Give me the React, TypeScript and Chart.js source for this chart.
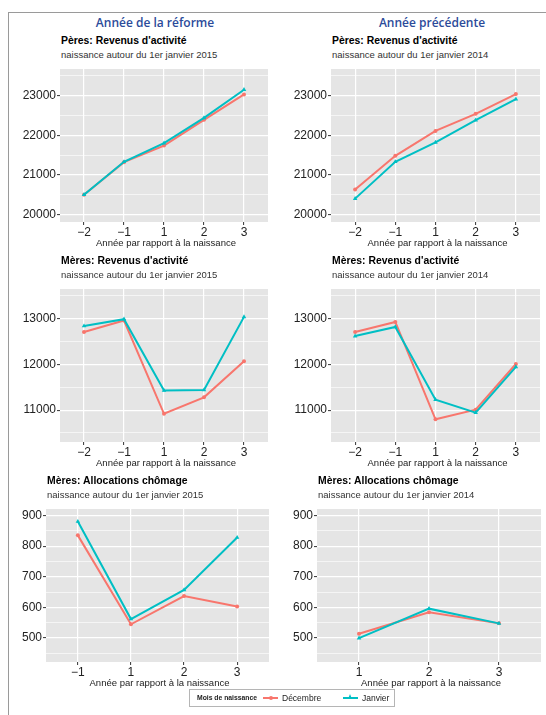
import React, { useEffect, useRef } from 'react';
import { Chart, registerables } from 'chart.js';
Chart.register(...registerables);

const RED = '#F8766D';
const TEAL = '#00BFC4';
const PANEL_BG = '#E5E5E5';
const FONT = '"Liberation Sans", Arial, Helvetica, sans-serif';

// Categories (years relative to birth)
const catsFull = ['\u22122', '\u22121', '1', '2', '3'];
const catsChom2015 = ['\u22121', '1', '2', '3'];
const catsChom2014 = ['1', '2', '3'];

// Pères: Revenus d'activité
const peres2015Dec = [20500, 21320, 21740, 22390, 23030];
const peres2015Jan = [20500, 21330, 21800, 22440, 23150];
const peres2014Dec = [20630, 21480, 22110, 22540, 23040];
const peres2014Jan = [20400, 21330, 21820, 22380, 22910];

// Mères: Revenus d'activité
const meres2015Dec = [12710, 12960, 10920, 11280, 12070];
const meres2015Jan = [12840, 12990, 11430, 11440, 13040];
const meres2014Dec = [12710, 12930, 10800, 11010, 12010];
const meres2014Jan = [12620, 12820, 11230, 10945, 11945];

// Mères: Allocations chômage
const chom2015Dec = [835, 545, 637, 603];
const chom2015Jan = [880, 562, 657, 828];
const chom2014Dec = [514, 584, 548];
const chom2014Jan = [500, 596, 548];

// Tick labels (major ticks)
const ticksPeres = [20000, 21000, 22000, 23000];
const ticksMeres = [11000, 12000, 13000];
const ticksChom = [500, 600, 700, 800, 900];

const Y_AXIS_W = 46;
const X_AXIS_H = 22;
const TICK_FONT = { family: FONT, size: 12 };
const TICK_COLOR = '#222';

const bgPlugin = {
  id: 'panelBg',
  beforeDraw(chart: any) {
    const { ctx, chartArea: a } = chart;
    ctx.save();
    ctx.fillStyle = PANEL_BG;
    ctx.fillRect(a.left, a.top, a.right - a.left, a.bottom - a.top);
    ctx.restore();
  },
};

type PanelProps = {
  left: number;
  top: number;
  width: number;
  height: number;
  yMin: number;
  yMax: number;
  majors: number[];
  cats: string[];
  dec: number[];
  jan: number[];
  title: string;
  subtitle: string;
};

function Panel(p: PanelProps) {
  const ref = useRef<HTMLCanvasElement>(null);
  const cw = Y_AXIS_W + p.width;
  const ch = p.height + X_AXIS_H;

  useEffect(() => {
    const step = p.majors[1] - p.majors[0];
    const minors: number[] = [];
    for (let v = p.majors[0] - step / 2; v <= p.yMax; v += step) {
      if (v >= p.yMin) minors.push(v);
    }
    const allY = [...p.majors, ...minors].sort((a, b) => a - b);
    const isMajor = (v: number) => p.majors.includes(v);
    const n = p.cats.length;

    const chart = new Chart(ref.current as HTMLCanvasElement, {
      type: 'line',
      data: {
        datasets: [
          {
            label: 'Janvier',
            data: p.jan.map((y, i) => ({ x: i, y })),
            borderColor: TEAL,
            backgroundColor: TEAL,
            borderWidth: 2,
            pointStyle: 'triangle',
            pointRadius: 2.6,
            pointBorderWidth: 0,
            order: 0,
          },
          {
            label: 'Décembre',
            data: p.dec.map((y, i) => ({ x: i, y })),
            borderColor: RED,
            backgroundColor: RED,
            borderWidth: 2,
            pointStyle: 'circle',
            pointRadius: 2,
            pointBorderWidth: 0,
            order: 1,
          },
        ],
      },
      options: {
        responsive: false,
        animation: false,
        devicePixelRatio: 1,
        layout: { padding: 0 },
        plugins: {
          legend: { display: false },
          tooltip: { enabled: false },
          title: { display: false },
        },
        scales: {
          x: {
            type: 'linear',
            min: -0.6,
            max: n - 1 + 0.6,
            afterBuildTicks: (s: any) => {
              s.ticks = p.cats.map((_, i) => ({ value: i }));
            },
            afterFit: (s: any) => {
              s.height = X_AXIS_H;
              s.paddingLeft = 0;
              s.paddingRight = 0;
              s.paddingTop = 0;
              s.paddingBottom = 0;
            },
            ticks: {
              callback: (v: any) => p.cats[Math.round(Number(v))],
              autoSkip: false,
              maxRotation: 0,
              padding: 0,
              font: TICK_FONT,
              color: TICK_COLOR,
            },
            grid: {
              color: '#ffffff',
              lineWidth: 1.2,
              drawTicks: true,
              tickLength: 3,
              tickColor: '#333',
              tickWidth: 1,
            },
            border: { display: false },
          },
          y: {
            type: 'linear',
            min: p.yMin,
            max: p.yMax,
            afterBuildTicks: (s: any) => {
              s.ticks = allY.map((v) => ({ value: v }));
            },
            afterFit: (s: any) => {
              s.width = Y_AXIS_W;
              s.paddingLeft = 0;
              s.paddingRight = 0;
              s.paddingTop = 0;
              s.paddingBottom = 0;
            },
            ticks: {
              callback: (v: any) => (isMajor(Number(v)) ? String(v) : ''),
              autoSkip: false,
              padding: 1,
              font: TICK_FONT,
              color: TICK_COLOR,
            },
            grid: {
              color: '#ffffff',
              lineWidth: (ctx: any) => (ctx.tick && isMajor(ctx.tick.value) ? 1.2 : 0.6),
              drawTicks: true,
              tickLength: 3,
              tickColor: (ctx: any) =>
                ctx.tick && isMajor(ctx.tick.value) ? '#333' : 'rgba(0,0,0,0)',
              tickWidth: 1,
            },
            border: { display: false },
          },
        },
      },
      plugins: [bgPlugin],
    } as any);
    return () => chart.destroy();
  }, []);

  return (
    <>
      <div
        style={{
          position: 'absolute',
          left: p.left + 1,
          top: p.top - 24,
          transform: 'translateY(-50%)',
          fontFamily: FONT,
          fontWeight: 700,
          fontSize: 10.4,
          lineHeight: 1,
          color: '#000',
          whiteSpace: 'nowrap',
        }}
      >
        {p.title}
      </div>
      <div
        style={{
          position: 'absolute',
          left: p.left + 1,
          top: p.top - 10.5,
          transform: 'translateY(-50%)',
          fontFamily: FONT,
          fontSize: 9.5,
          lineHeight: 1,
          color: '#333',
          whiteSpace: 'nowrap',
        }}
      >
        {p.subtitle}
      </div>
      <canvas
        ref={ref}
        width={cw}
        height={ch}
        style={{
          position: 'absolute',
          left: p.left - Y_AXIS_W,
          top: p.top,
          width: cw,
          height: ch,
          display: 'block',
        }}
      />
      <div
        style={{
          position: 'absolute',
          left: p.left + p.width / 2,
          top: p.top + p.height + 21,
          transform: 'translate(-50%, -50%)',
          fontFamily: FONT,
          fontSize: 9.5,
          lineHeight: 1,
          color: '#222',
          whiteSpace: 'nowrap',
        }}
      >
        Année par rapport à la naissance
      </div>
    </>
  );
}

const headerStyle: React.CSSProperties = {
  position: 'absolute',
  top: 23,
  transform: 'translate(-50%, -50%)',
  fontFamily: '"Open Sans", sans-serif',
  fontWeight: 600,
  fontSize: 12,
  lineHeight: 1,
  color: '#2C4B9A',
  whiteSpace: 'nowrap',
};

export default function App() {
  const sub2015 = 'naissance autour du 1er janvier 2015';
  const sub2014 = 'naissance autour du 1er janvier 2014';
  return (
    <div
      style={{
        position: 'absolute',
        left: 0,
        top: 0,
        width: 546,
        height: 715,
        background: '#fff',
        overflow: 'hidden',
        fontFamily: FONT,
      }}
    >
      {/* frame */}
      <div style={{ position: 'absolute', left: 8, top: 12, width: 538, height: 1, background: '#9a9a9a' }} />
      <div style={{ position: 'absolute', left: 8, top: 12, width: 1, height: 703, background: '#9a9a9a' }} />

      <div style={{ ...headerStyle, left: 155 }}>Année de la réforme</div>
      <div style={{ ...headerStyle, left: 432 }}>Année précédente</div>

      <Panel left={60} top={65} width={212} height={157} yMin={19810} yMax={23673}
        majors={ticksPeres} cats={catsFull} dec={peres2015Dec} jan={peres2015Jan}
        title="Pères: Revenus d'activité" subtitle={sub2015} />
      <Panel left={331} top={65} width={213} height={157} yMin={19810} yMax={23673}
        majors={ticksPeres} cats={catsFull} dec={peres2014Dec} jan={peres2014Jan}
        title="Pères: Revenus d'activité" subtitle={sub2014} />

      <Panel left={60} top={285} width={212} height={157} yMin={10303} yMax={13650}
        majors={ticksMeres} cats={catsFull} dec={meres2015Dec} jan={meres2015Jan}
        title="Mères: Revenus d'activité" subtitle={sub2015} />
      <Panel left={331} top={285} width={213} height={157} yMin={10303} yMax={13650}
        majors={ticksMeres} cats={catsFull} dec={meres2014Dec} jan={meres2014Jan}
        title="Mères: Revenus d'activité" subtitle={sub2014} />

      <Panel left={46} top={505} width={227} height={157} yMin={422} yMax={921}
        majors={ticksChom} cats={catsChom2015} dec={chom2015Dec} jan={chom2015Jan}
        title="Mères: Allocations chômage" subtitle={sub2015} />
      <Panel left={317} top={505} width={228} height={157} yMin={422} yMax={921}
        majors={ticksChom} cats={catsChom2014} dec={chom2014Dec} jan={chom2014Jan}
        title="Mères: Allocations chômage" subtitle={sub2014} />

      {/* legend */}
      <div style={{ position: 'absolute', left: 189, top: 689, width: 206, height: 18, border: '1px solid #b5b5b5', boxSizing: 'border-box', background: '#fff' }} />
      <div style={{ position: 'absolute', left: 197, top: 698, transform: 'translateY(-50%)', fontFamily: FONT, fontWeight: 700, fontSize: 6.8, lineHeight: 1, color: '#222', whiteSpace: 'nowrap' }}>
        Mois de naissance
      </div>
      <div style={{ position: 'absolute', left: 263, top: 697, width: 15, height: 2, background: RED }} />
      <div style={{ position: 'absolute', left: 269, top: 696, width: 4, height: 4, borderRadius: 2, background: RED }} />
      <div style={{ position: 'absolute', left: 282, top: 698, transform: 'translateY(-50%)', fontFamily: FONT, fontSize: 8.5, lineHeight: 1, color: '#222', whiteSpace: 'nowrap' }}>
        Décembre
      </div>
      <div style={{ position: 'absolute', left: 343, top: 697, width: 15, height: 2, background: TEAL }} />
      <div style={{ position: 'absolute', left: 348, top: 694, width: 0, height: 0, borderLeft: '2.5px solid transparent', borderRight: '2.5px solid transparent', borderBottom: '5px solid ' + TEAL }} />
      <div style={{ position: 'absolute', left: 362, top: 698, transform: 'translateY(-50%)', fontFamily: FONT, fontSize: 8.5, lineHeight: 1, color: '#222', whiteSpace: 'nowrap' }}>
        Janvier
      </div>
    </div>
  );
}
